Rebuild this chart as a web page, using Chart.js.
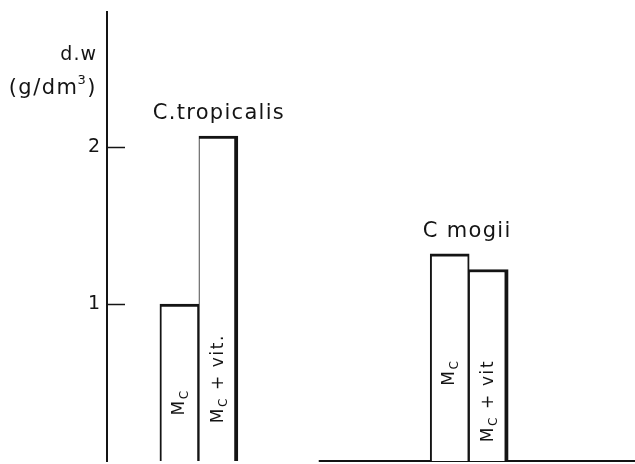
<!DOCTYPE html>
<html>
<head>
<meta charset="utf-8">
<script src="https://cdn.jsdelivr.net/npm/chart.js@4"></script>
<style>
  html, body { margin: 0; padding: 0; background: #ffffff; }
  #wrap { width: 635px; height: 464px; position: relative; }
</style>
</head>
<body>
<div id="wrap"><canvas id="c"></canvas></div>
<script>
// ---- data ----
const groups = ['C.tropicalis', 'C mogii'];
const groupPos = [1, 4];
const seriesNames = ['M_C', 'M_C + vit.'];
const mcValues = [1.0, 1.32];
const mcVitValues = [2.07, 1.22];
// rotated bar labels: [main, subscript, tail] per series, per group
const barLabelsMc = [['M', 'C', ''], ['M', 'C', '']];
const barLabelsMcVit = [['M', 'C', ' + vit.'], ['M', 'C', ' + vit']];
const yTickLabels = [1, 2];
const axisTitle = ['d.w', '(g/dm', '3', ')'];
const baselineX = [2.33, 5.84];
const baselineY = [0, 0];

const ink = '#141414';
const FONT = '"DejaVu Sans", "Liberation Sans", sans-serif';

const toPoints = (xs, ys) => xs.map((x, i) => ({ x: x, y: ys[i] }));

const annot = {
  id: 'annot',
  afterDatasetsDraw(chart, args, opts) {
    const { ctx, chartArea, scales } = chart;
    const x = scales.x, y = scales.y;
    ctx.save();
    ctx.fillStyle = ink;
    ctx.strokeStyle = ink;

    // inward tick marks on the y axis
    ctx.lineWidth = 1.5;
    yTickLabels.forEach(v => {
      const py = Math.round(y.getPixelForValue(v)) + 0.5;
      ctx.beginPath();
      ctx.moveTo(chartArea.left, py);
      ctx.lineTo(chartArea.left + opts.tickLen, py);
      ctx.stroke();
    });

    // axis title (horizontal, top-left)
    const right = chartArea.left - opts.titleRight;
    ctx.textAlign = 'right';
    ctx.textBaseline = 'alphabetic';
    ctx.letterSpacing = '1px';
    ctx.font = '19px ' + FONT;
    ctx.fillText(axisTitle[0], right, opts.titleBase[0]);
    // second line: "(g/dm" + superscript "3" + ")"
    ctx.letterSpacing = '1.5px';
    ctx.font = '21px ' + FONT;
    const wClose = ctx.measureText(axisTitle[3]).width;
    ctx.fillText(axisTitle[3], right, opts.titleBase[1]);
    ctx.font = '13px ' + FONT;
    const wSup = ctx.measureText(axisTitle[2]).width;
    ctx.fillText(axisTitle[2], right - wClose, opts.titleBase[1] - 10);
    ctx.font = '21px ' + FONT;
    ctx.fillText(axisTitle[1], right - wClose - wSup + 1, opts.titleBase[1]);

    // group labels above the bars
    ctx.textAlign = 'center';
    ctx.font = '21px ' + FONT;
    ctx.letterSpacing = '1.3px';
    groups.forEach((g, j) => {
      const px = x.getPixelForValue(groupPos[j]) + opts.groupDx[j];
      const top = Math.min(y.getPixelForValue(mcValues[j]), y.getPixelForValue(mcVitValues[j]));
      ctx.fillText(g, px, top - opts.groupGap);
    });

    // rotated labels inside the bars
    const allLabels = [barLabelsMc, barLabelsMcVit];
    ctx.letterSpacing = '1.6px';
    ctx.textAlign = 'left';
    ctx.textBaseline = 'middle';
    [0, 1].forEach(i => {
      const meta = chart.getDatasetMeta(i);
      meta.data.forEach((el, j) => {
        const parts = allLabels[i][j];
        const sy = y.getPixelForValue(opts.labelStart[i][j]);
        ctx.save();
        ctx.translate(el.x, sy);
        ctx.rotate(-Math.PI / 2);
        let cx = 0;
        ctx.font = '17px ' + FONT;
        ctx.fillText(parts[0], cx, 0);
        cx += ctx.measureText(parts[0]).width;
        ctx.font = '12px ' + FONT;
        ctx.fillText(parts[1], cx, 5);
        cx += ctx.measureText(parts[1]).width;
        ctx.font = '17px ' + FONT;
        ctx.fillText(parts[2], cx, 0);
        ctx.restore();
      });
    });
    ctx.restore();
  }
};

new Chart(document.getElementById('c'), {
  type: 'bar',
  data: {
    datasets: [
      {
        label: seriesNames[0],
        data: toPoints(groupPos, mcValues),
        backgroundColor: '#ffffff',
        borderColor: ink,
        borderWidth: { top: 3, left: 2, right: 2, bottom: 0 },
        borderSkipped: 'start',
        barThickness: 39
      },
      {
        label: seriesNames[1],
        data: toPoints(groupPos, mcVitValues),
        backgroundColor: '#ffffff',
        borderColor: ink,
        borderWidth: { top: 3, left: 1, right: 4, bottom: 0 },
        borderSkipped: 'start',
        barThickness: 39
      },
      {
        type: 'line',
        label: 'baseline',
        data: toPoints(baselineX, baselineY),
        borderColor: ink,
        borderWidth: 2,
        pointRadius: 0,
        fill: false,
        clip: false
      }
    ]
  },
  options: {
    responsive: true,
    maintainAspectRatio: false,
    animation: false,
    devicePixelRatio: 1,
    layout: { padding: { top: 12, bottom: 3, left: 0, right: 0 } },
    plugins: {
      legend: { display: false },
      tooltip: { enabled: false },
      annot: {
        tickLen: 18,
        titleRight: 10,
        titleBase: [60, 94],
        groupDx: [20, -2],
        groupGap: 17,
        labelStart: [[0.29, 0.48], [0.24, 0.12]]
      }
    },
    scales: {
      x: {
        type: 'linear',
        min: -0.02,
        max: 5.84,
        offset: false,
        display: false
      },
      y: {
        min: 0,
        max: 2.86,
        ticks: {
          stepSize: 1,
          includeBounds: false,
          padding: 7,
          color: ink,
          font: { family: 'DejaVu Sans', size: 19 },
          callback: v => (yTickLabels.includes(v) ? String(v) : null)
        },
        grid: { display: false, drawTicks: false },
        border: { display: true, color: ink, width: 2 },
        afterFit: s => { s.width = 107; s.paddingTop = 0; s.paddingBottom = 0; }
      }
    }
  },
  plugins: [annot]
});
</script>
</body>
</html>
